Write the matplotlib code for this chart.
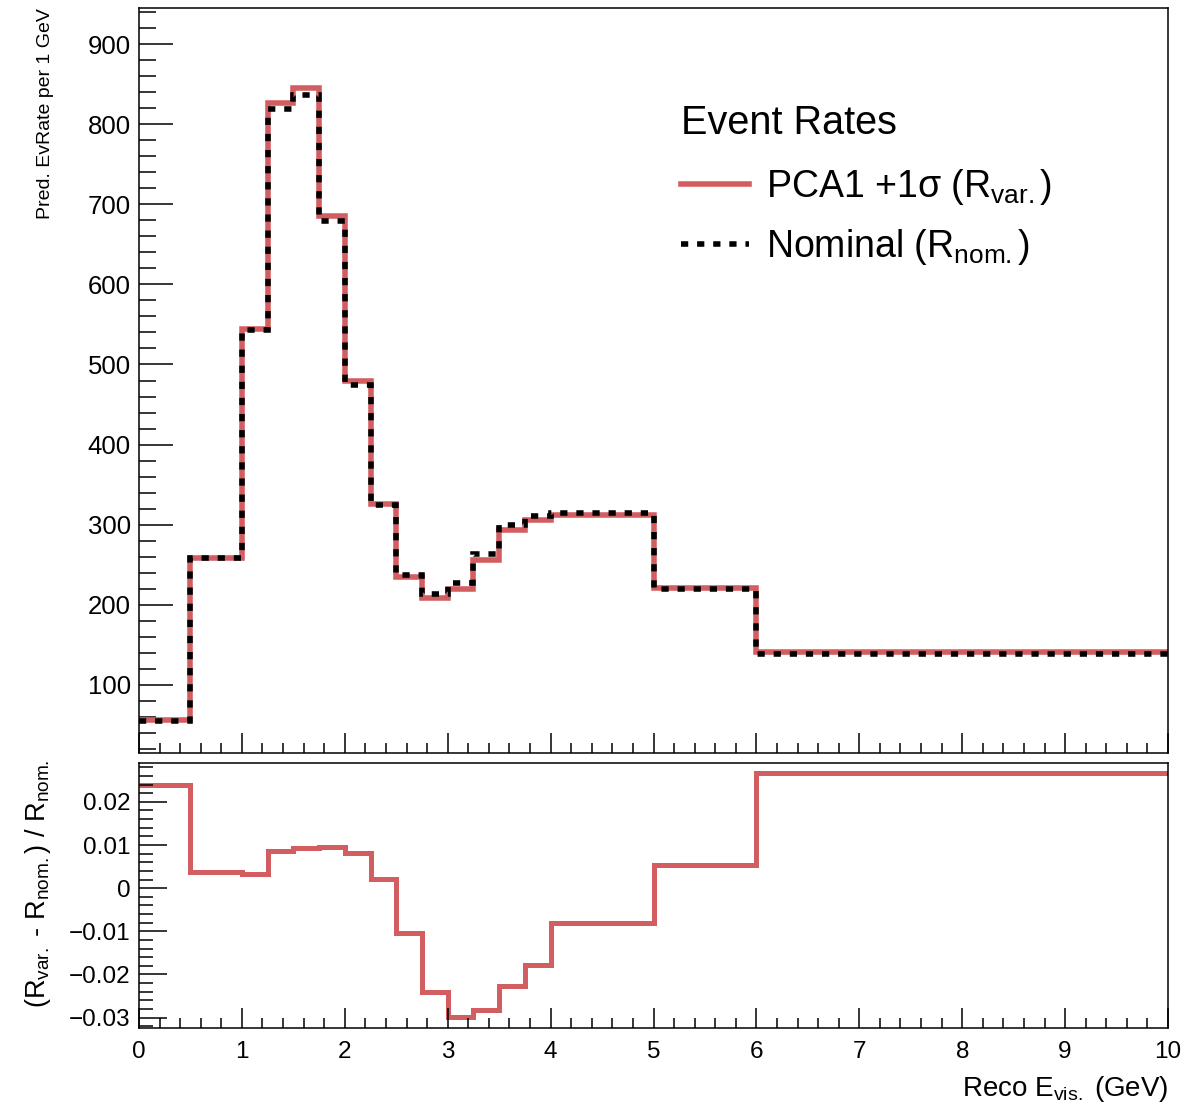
"""Event rate variation plot: PCA1 +1 sigma vs nominal, with fractional ratio panel."""

import matplotlib

matplotlib.use("Agg")

import matplotlib.pyplot as plt
from matplotlib.lines import Line2D
from matplotlib.ticker import FuncFormatter, MultipleLocator

plt.rcParams["font.family"] = ["Liberation Sans", "DejaVu Sans"]
plt.rcParams["mathtext.fontset"] = "custom"
plt.rcParams["mathtext.rm"] = "Liberation Sans"
plt.rcParams["mathtext.it"] = "Liberation Sans:italic"
plt.rcParams["mathtext.bf"] = "Liberation Sans:bold"

# binning in reco visible energy (GeV)
BIN_EDGES = [0, 0.5, 1, 1.25, 1.5, 1.75, 2, 2.25, 2.5, 2.75, 3, 3.25, 3.5, 3.75, 4, 5, 6, 10]
# nominal predicted event rate per 1 GeV
NOMINAL_RATE = [55, 258, 543, 819, 837, 679, 475, 325, 237, 213, 227, 263, 300, 311, 314, 220, 138]
# (R_var - R_nom) / R_nom for the PCA1 +1 sigma variation
FRAC_DIFF = [0.0238, 0.0037, 0.0032, 0.0086, 0.0093, 0.0096, 0.0081, 0.0022, -0.0104,
             -0.0241, -0.0298, -0.0282, -0.0226, -0.0178, -0.0080, 0.0054, 0.0266]

VAR_RATE = [n * (1 + f) for n, f in zip(NOMINAL_RATE, FRAC_DIFF)]

RED = "#d25e61"
W, H = 1202, 1106
LEFT, RIGHT = 139, 1168

fig = plt.figure(figsize=(W / 100, H / 100), dpi=100)
ax_top = fig.add_axes([LEFT / W, 1 - 753 / H, (RIGHT - LEFT) / W, (753 - 8) / H])
ax_bot = fig.add_axes([LEFT / W, 1 - 1028 / H, (RIGHT - LEFT) / W, (1028 - 763) / H])

dotted = (0, (1.3, 1.6))

# top panel
ax_top.stairs(VAR_RATE, BIN_EDGES, baseline=None, color=RED, linewidth=4.0, zorder=2)
ax_top.stairs(NOMINAL_RATE, BIN_EDGES, baseline=None, color="black", linewidth=4.0,
              linestyle=dotted, zorder=3)
ax_top.set_xlim(0, 10)
ax_top.set_ylim(15, 945)
ax_top.yaxis.set_major_locator(MultipleLocator(100))
ax_top.yaxis.set_minor_locator(MultipleLocator(20))
ax_top.xaxis.set_major_locator(MultipleLocator(1))
ax_top.xaxis.set_minor_locator(MultipleLocator(0.2))
ax_top.tick_params(axis="x", which="both", direction="in", top=False, labelbottom=False)
ax_top.tick_params(axis="x", which="major", length=14.4, width=1.1)
ax_top.tick_params(axis="x", which="minor", length=7.2, width=1.1)
ax_top.tick_params(axis="y", which="both", direction="in", right=False, labelsize=18.5, pad=6)
ax_top.tick_params(axis="y", which="major", length=24.5, width=1.1)
ax_top.tick_params(axis="y", which="minor", length=12.2, width=1.1)

handles = [
    Line2D([], [], color=RED, linewidth=4.0),
    Line2D([], [], color="black", linewidth=4.0, linestyle=dotted),
]
labels = [
    "PCA1 +1σ (R$_{\\mathrm{var.}}$)",
    "Nominal (R$_{\\mathrm{nom.}}$)",
]
ax_top.legend(handles, labels, loc="upper left", bbox_to_anchor=(0.527, 0.787),
              frameon=False, fontsize=27, handlelength=1.8, handletextpad=0.45,
              labelspacing=0.54, borderpad=0, borderaxespad=0)
fig.text(681 / W, 1 - 134 / H, "Event Rates", ha="left", va="baseline", fontsize=28.5)

fig.text(46 / W, 1 - 8 / H, "Pred. EvRate per 1 GeV", rotation=90, ha="center", va="top",
         fontsize=14)

# ratio panel
ax_bot.stairs(FRAC_DIFF, BIN_EDGES, baseline=None, color=RED, linewidth=3.6)
ax_bot.set_xlim(0, 10)
ax_bot.set_ylim(-0.0324, 0.029)
ax_bot.xaxis.set_major_locator(MultipleLocator(1))
ax_bot.xaxis.set_minor_locator(MultipleLocator(0.2))
ax_bot.yaxis.set_major_locator(MultipleLocator(0.01))
ax_bot.yaxis.set_minor_locator(MultipleLocator(0.002))
ax_bot.yaxis.set_major_formatter(
    FuncFormatter(lambda v, _: "0" if abs(v) < 1e-9 else f"{v:.2f}".replace("-", "\u2212")))
ax_bot.tick_params(axis="x", which="both", direction="in", top=False, labelsize=17.5, pad=9)
ax_bot.tick_params(axis="x", which="major", length=14.4, width=1.1)
ax_bot.tick_params(axis="x", which="minor", length=7.2, width=1.1)
ax_bot.tick_params(axis="y", which="both", direction="in", right=False, labelsize=17.5, pad=6)
ax_bot.tick_params(axis="y", which="major", length=20, width=1.1)
ax_bot.tick_params(axis="y", which="minor", length=10, width=1.1)

fig.text(38 / W, 1 - 760 / H,
         "(R$_{\\mathrm{var.}}$ - R$_{\\mathrm{nom.}}$) / R$_{\\mathrm{nom.}}$",
         rotation=90, ha="center", va="top", fontsize=19.5)
fig.text(RIGHT / W, 1 - 1096 / H, "Reco E$_{\\mathrm{vis.}}$ (GeV)", ha="right",
         va="baseline", fontsize=20)

for ax in (ax_top, ax_bot):
    for spine in ax.spines.values():
        spine.set_linewidth(1.1)

fig.savefig("out.png", dpi=100)
